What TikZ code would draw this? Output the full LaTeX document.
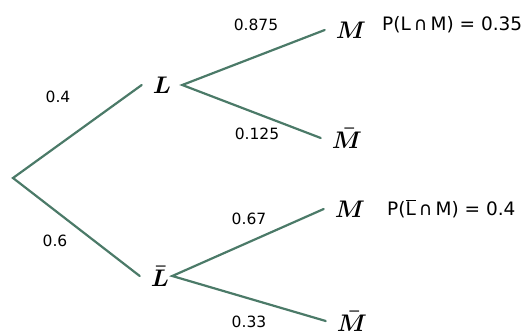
\RequirePackage{fix-cm}
\documentclass[tikz,border=0pt]{standalone}
\usepackage{fontspec}
\usepackage{xcolor}
\usepackage{tikz}
\usetikzlibrary{positioning}
\newfontfamily\probfont{DejaVu Sans}
\definecolor{BranchGreen}{HTML}{4B7A68}

\begin{document}
\begin{tikzpicture}[
  x=1pt, y=1pt,
  event/.style={inner xsep=11pt, inner ysep=2pt, font=\fontsize{24}{24}\selectfont\boldmath},
  prob/.style={inner sep=0pt, font=\probfont\fontsize{15.5}{15.5}\selectfont},
  joint/.style={inner sep=0pt, anchor=west, font=\probfont\fontsize{18.5}{18.5}\selectfont},
  branch/.style={draw=BranchGreen, line width=2.2pt, line cap=round, line join=miter}
]
\useasboundingbox (0,0) rectangle (524,-336);
\coordinate (root) at (13,-178);
\node[event] (L) at (162,-85) {$L$};
\node[event] (Lb) at (160,-276) {$\bar{L}$};
\node[event] (M1) at (351,-30) {$M$};
\node[event] (Mb1) at (347,-138) {$\bar{M}$};
\node[event] (M2) at (350,-209) {$M$};
\node[event] (Mb2) at (352,-321) {$\bar{M}$};

\draw[branch] (L.west) -- (root) -- (Lb.west);
\draw[branch] (M1.west) -- (L.east) -- (Mb1.west);
\draw[branch] (M2.west) -- ([xshift=-8pt]Lb.east) -- (Mb2.west);

% branch probabilities
\node[prob] (pL) at (58,-97) {0.4};
\node[prob] (pLb) at (55,-241) {0.6};
\node[prob] (pM1) at (256,-25) {0.875};
\node[prob] (pMb1) at (257,-134) {0.125};
\node[prob] (pM2) at (249,-219) {0.67};
\node[prob] (pMb2) at (249,-322) {0.33};

% joint probabilities
\node[joint] (jLM) at (382,-25) {P(L\,∩\,M) = 0.35};
\node[joint] (jLbM) at (387,-209) {P($\overline{\mbox{L}}$\,∩\,M) = 0.4};
\end{tikzpicture}
\end{document}
